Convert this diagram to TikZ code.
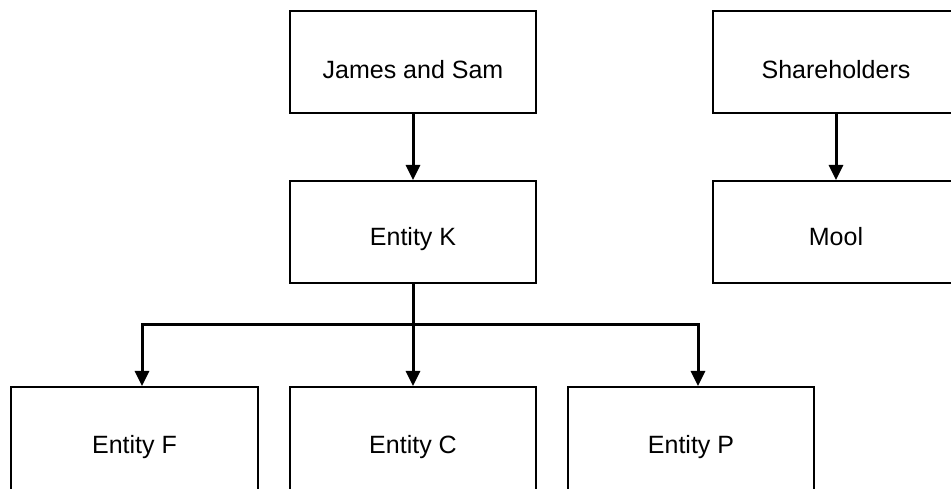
\documentclass[tikz,border=0pt]{standalone}
\usepackage{fontspec}
\setmainfont{Liberation Sans}
\usetikzlibrary{arrows.meta}
\begin{document}
\begin{tikzpicture}[x=1bp,y=-1bp,
  box/.style={draw=black, line width=2bp, minimum width=246bp, minimum height=102bp,
    inner sep=0pt, font=\fontsize{25bp}{30bp}\selectfont, text depth=0pt, text height=28bp},
  toprow/.style={text height=33bp},
  conn/.style={draw=black, line width=3bp, -{Triangle[width=14bp,length=15bp]}}]
  \clip (0,0) rectangle (951,489);
  \fill[white] (0,0) rectangle (951,489);

  % owners
  \node[box, toprow] (james) at (413,62) {James and Sam};
  \node[box, toprow] (share) at (836,62) {Shareholders};

  % holding entities
  \node[box] (k) at (413,232) {Entity K};
  \node[box] (mool) at (836,232) {Mool};

  % subsidiaries (run past the lower edge)
  \node[box, minimum height=106bp, text height=26bp] (f) at (134.5,440) {Entity F};
  \node[box, minimum height=106bp, text height=26bp] (c) at (413,440) {Entity C};
  \node[box, minimum height=106bp, text height=26bp] (p) at (691,440) {Entity P};

  \coordinate (bus) at (413,325);

  \draw[conn] (james) -- (k);
  \draw[conn] (share) -- (mool);
  \draw[conn] (k) -- (c);
  \draw[conn] (bus) -| ([xshift=7.5bp]f.north);
  \draw[conn] (bus) -| ([xshift=7bp]p.north);
\end{tikzpicture}
\end{document}
